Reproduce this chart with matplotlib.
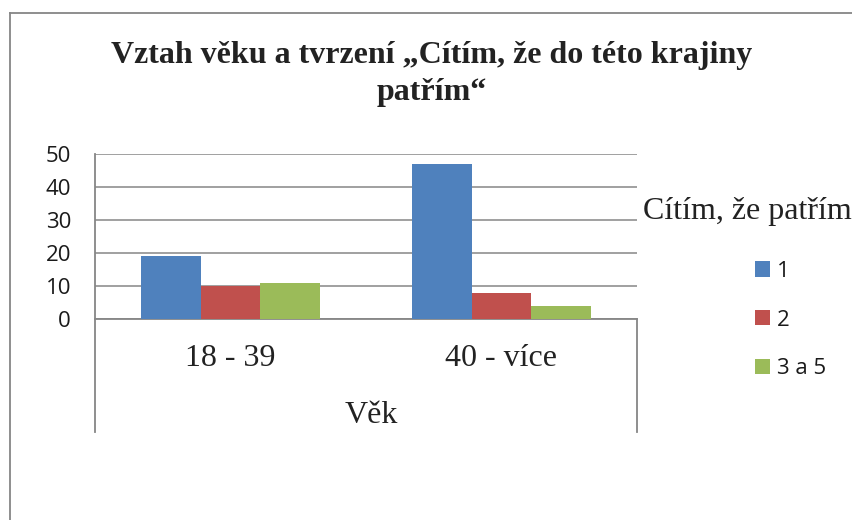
import matplotlib
matplotlib.use("Agg")
import matplotlib.pyplot as plt
from matplotlib.lines import Line2D

# data
categories = ["18 - 39", "40 - více"]
series_names = ["1", "2", "3 a 5"]
values_1 = [19, 47]
values_2 = [10, 8]
values_3 = [11, 4]
colors = ["#4F81BD", "#C0504D", "#9BBB59"]

W, H = 853, 520
fig = plt.figure(figsize=(W / 100, H / 100), dpi=100)

def fx(px):
    return px / W

def fy(py):
    return 1 - py / H

# plot area in pixels: x 95..637, y 154..319
ax = fig.add_axes([fx(95), fy(319), fx(637) - fx(95), (319 - 154) / H])

grey = "#868686"
width = 0.221
x = list(range(len(categories)))
all_vals = [values_1, values_2, values_3]
for i, vals in enumerate(all_vals):
    pos = [xi + (i - 1) * width for xi in x]
    ax.bar(pos, vals, width=width, color=colors[i], label=series_names[i], zorder=3)

ax.set_xlim(-0.5, 1.5)
ax.set_ylim(0, 50)
ax.set_yticks([0, 10, 20, 30, 40, 50])
ax.yaxis.grid(True, color=grey, linewidth=1.1, zorder=0)
for s in ["top", "right", "left"]:
    ax.spines[s].set_visible(False)
ax.spines["bottom"].set_color(grey)
ax.spines["bottom"].set_linewidth(1.3)
ax.tick_params(axis="y", length=0, pad=24 * 0.72, labelsize=16, labelcolor="#1a1a1a")
for lab in ax.get_yticklabels():
    lab.set_fontfamily("Open Sans")
ax.set_xticks(x)
ax.set_xticklabels(categories, fontfamily="Liberation Serif", fontsize=23, color="#222222")
ax.tick_params(axis="x", length=0, pad=18)

# category axis lines extending below the plot
bot = (319 - 432) / (319 - 154)
ax.plot([0, 0], [bot, 1], transform=ax.transAxes, color=grey, lw=1.3, clip_on=False)
ax.plot([1, 1], [bot, 0], transform=ax.transAxes, color=grey, lw=1.3, clip_on=False)

fig.text(fx(371), fy(423), "Věk", ha="center", va="baseline",
         fontfamily="Liberation Serif", fontsize=23, color="#222222")

title_lines = ["Vztah věku a tvrzení „Cítím, že do této krajiny", "patřím“"]
for line, base in zip(title_lines, [63, 100]):
    fig.text(fx(432), fy(base), line, ha="center", va="baseline",
             fontfamily="Liberation Serif", fontweight="bold", fontsize=23, color="#222222")

fig.text(fx(643), fy(219), "Cítím, že patřím", ha="left", va="baseline",
         fontfamily="Liberation Serif", fontsize=23, color="#222222")

leg = ax.legend(loc="center left", bbox_to_anchor=(fx(755), fy(320)),
                bbox_transform=fig.transFigure, frameon=False, borderpad=0,
                borderaxespad=0, handlelength=0.68, handleheight=0.68,
                handletextpad=0.32, labelspacing=1.25,
                prop={"family": "Open Sans", "size": 16})
for t in leg.get_texts():
    t.set_color("#1a1a1a")

# outer chart frame (top and left edges visible)
fig.add_artist(Line2D([fx(10), 1], [fy(13), fy(13)], color=grey, lw=1.3))
fig.add_artist(Line2D([fx(10), fx(10)], [fy(13), 0], color=grey, lw=1.3))

fig.savefig("out.png", dpi=100)
